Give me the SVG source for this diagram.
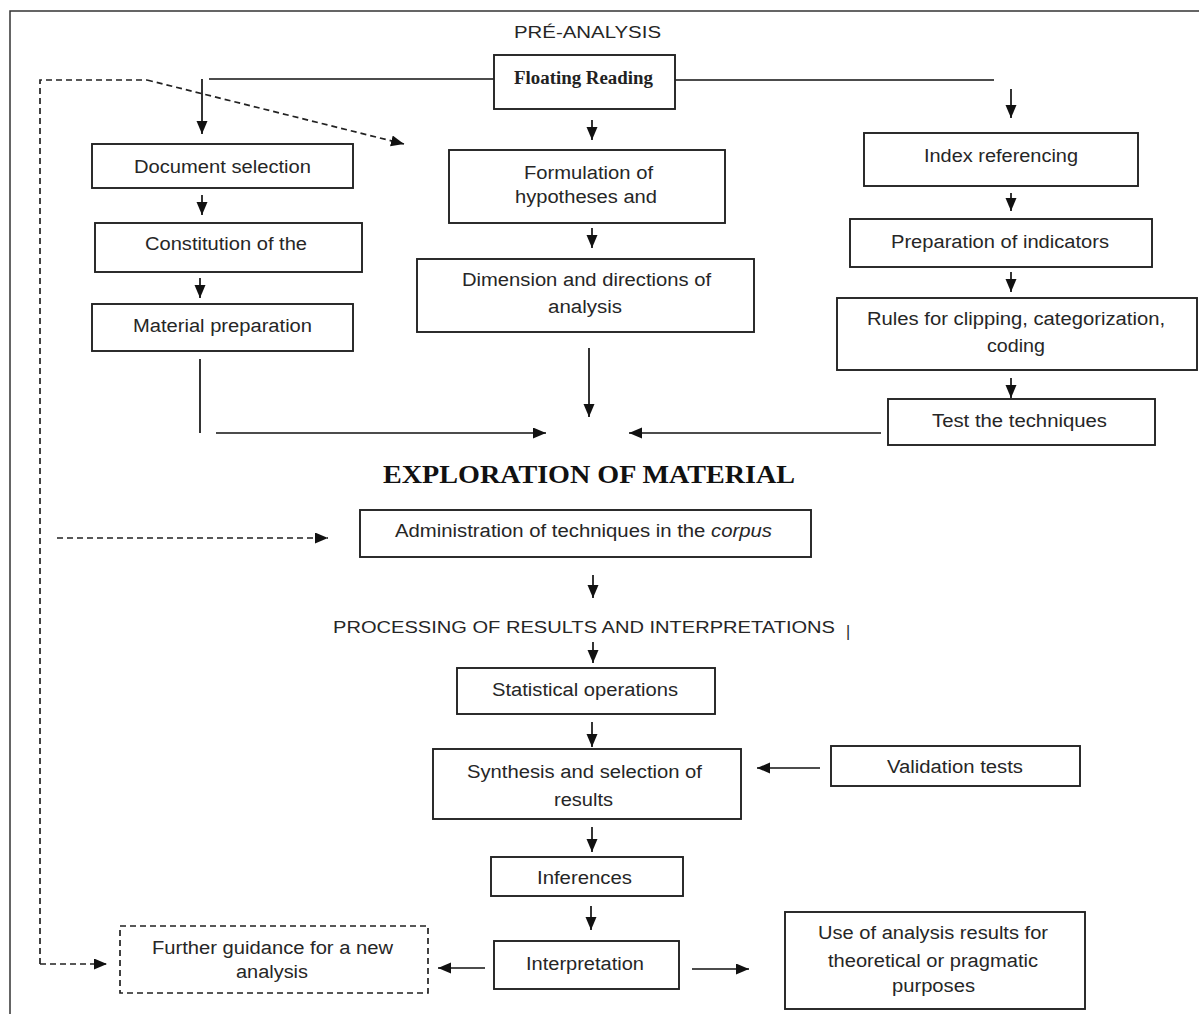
<svg xmlns="http://www.w3.org/2000/svg" width="1199" height="1014" viewBox="0 0 1199 1014">
<style>
.box{fill:#fff;stroke:#222;stroke-width:1.9}
.dbox{fill:#fff;stroke:#222;stroke-width:1.7;stroke-dasharray:6 4}
.lbl{font-family:"Liberation Sans",Arial,sans-serif;font-size:18px;fill:#262626}
.hdr{font-family:"Liberation Sans",Arial,sans-serif;font-size:16px;fill:#262626}
.big{font-family:"Liberation Serif","Times New Roman",serif;font-size:26px;font-weight:bold;fill:#111}
.ser{font-family:"Liberation Serif","Times New Roman",serif;font-size:18px;font-weight:bold;fill:#222}
.ln{stroke:#111;stroke-width:1.7;fill:none}
.arr{stroke:#111;stroke-width:1.7;fill:none;marker-end:url(#ah)}
.dash{stroke:#222;stroke-width:1.7;fill:none;stroke-dasharray:6 4}
.darr{stroke:#222;stroke-width:1.7;fill:none;stroke-dasharray:6 4;marker-end:url(#ah)}
</style>
<defs>
<marker id="ah" markerUnits="userSpaceOnUse" markerWidth="14" markerHeight="12" refX="13" refY="5.5" orient="auto">
<path d="M0,0 L13,5.5 L0,11 z" fill="#111"/>
</marker>
</defs>
<rect width="1199" height="1014" fill="#fff"/>
<path d="M10,1014 V11 H1199" stroke="#333" stroke-width="1.5" fill="none"/>

<text class="hdr" x="514" y="38" textLength="147" lengthAdjust="spacingAndGlyphs">PRÉ-ANALYSIS</text>
<text class="big" x="383" y="483" textLength="412" lengthAdjust="spacingAndGlyphs">EXPLORATION OF MATERIAL</text>
<text class="hdr" x="333" y="633" textLength="502" lengthAdjust="spacingAndGlyphs">PROCESSING OF RESULTS AND INTERPRETATIONS</text>
<text class="hdr" x="846" y="637" font-size="20" fill="#222">|</text>

<g id="connectors">
<path class="ln" d="M209,79 H494"/>
<path class="ln" d="M675,80 H994"/>
<path class="arr" d="M202,79 V134"/>
<path class="arr" d="M1011,89 V118"/>
<path class="arr" d="M592,120 V140"/>
<path class="dash" d="M40,964 V80 H147"/>
<path class="darr" d="M147,80 L404,144"/>
<path class="darr" d="M40,964 H107"/>
<path class="darr" d="M57,538 H328"/>
<path class="arr" d="M202,195 V215"/>
<path class="arr" d="M200,278 V298"/>
<path class="ln" d="M200,359 V433"/>
<path class="arr" d="M216,433 H546"/>
<path class="arr" d="M592,228 V248"/>
<path class="arr" d="M589,348 V417"/>
<path class="arr" d="M1011,193 V211"/>
<path class="arr" d="M1011,272 V292"/>
<path class="arr" d="M1011,378 V398"/>
<path class="arr" d="M881,433 H629"/>
<path class="arr" d="M593,575 V598"/>
<path class="arr" d="M593,642 V663"/>
<path class="arr" d="M592,722 V747"/>
<path class="arr" d="M820,768 H757"/>
<path class="arr" d="M592,827 V852"/>
<path class="arr" d="M591,906 V930"/>
<path class="arr" d="M485,968 H438"/>
<path class="arr" d="M692,969 H749"/>
</g>

<g id="floating-reading">
<rect class="box" x="494" y="55" width="181" height="54"/>
<text class="ser" x="514" y="84" textLength="139" lengthAdjust="spacingAndGlyphs">Floating Reading</text>
</g>
<g id="document-selection">
<rect class="box" x="92" y="144" width="261" height="44"/>
<text class="lbl" x="134" y="173" textLength="177" lengthAdjust="spacingAndGlyphs">Document selection</text>
</g>
<g id="constitution">
<rect class="box" x="95" y="223" width="267" height="49"/>
<text class="lbl" x="145" y="250" textLength="162" lengthAdjust="spacingAndGlyphs">Constitution of the</text>
</g>
<g id="material-preparation">
<rect class="box" x="92" y="304" width="261" height="47"/>
<text class="lbl" x="133" y="332" textLength="179" lengthAdjust="spacingAndGlyphs">Material preparation</text>
</g>
<g id="formulation">
<rect class="box" x="449" y="150" width="276" height="73"/>
<text class="lbl" x="524" y="179" textLength="129" lengthAdjust="spacingAndGlyphs">Formulation of</text>
<text class="lbl" x="515" y="203" textLength="142" lengthAdjust="spacingAndGlyphs">hypotheses and</text>
</g>
<g id="dimension">
<rect class="box" x="417" y="259" width="337" height="73"/>
<text class="lbl" x="462" y="286" textLength="249" lengthAdjust="spacingAndGlyphs">Dimension and directions of</text>
<text class="lbl" x="548" y="313" textLength="74" lengthAdjust="spacingAndGlyphs">analysis</text>
</g>
<g id="index-referencing">
<rect class="box" x="864" y="133" width="274" height="53"/>
<text class="lbl" x="924" y="162" textLength="154" lengthAdjust="spacingAndGlyphs">Index referencing</text>
</g>
<g id="preparation-indicators">
<rect class="box" x="850" y="219" width="302" height="48"/>
<text class="lbl" x="891" y="248" textLength="218" lengthAdjust="spacingAndGlyphs">Preparation of indicators</text>
</g>
<g id="rules">
<rect class="box" x="837" y="298" width="360" height="72"/>
<text class="lbl" x="867" y="325" textLength="298" lengthAdjust="spacingAndGlyphs">Rules for clipping, categorization,</text>
<text class="lbl" x="987" y="352" textLength="58" lengthAdjust="spacingAndGlyphs">coding</text>
</g>
<g id="test-techniques">
<rect class="box" x="888" y="399" width="267" height="46"/>
<text class="lbl" x="932" y="427" textLength="175" lengthAdjust="spacingAndGlyphs">Test the techniques</text>
</g>
<g id="administration">
<rect class="box" x="360" y="510" width="451" height="47"/>
<text class="lbl" x="395" y="537" textLength="377" lengthAdjust="spacingAndGlyphs">Administration of techniques in the <tspan font-style="italic">corpus</tspan></text>
</g>
<g id="statistical-operations">
<rect class="box" x="457" y="668" width="258" height="46"/>
<text class="lbl" x="492" y="696" textLength="186" lengthAdjust="spacingAndGlyphs">Statistical operations</text>
</g>
<g id="synthesis">
<rect class="box" x="433" y="749" width="308" height="70"/>
<text class="lbl" x="467" y="778" textLength="235" lengthAdjust="spacingAndGlyphs">Synthesis and selection of</text>
<text class="lbl" x="554" y="806" textLength="59" lengthAdjust="spacingAndGlyphs">results</text>
</g>
<g id="validation-tests">
<rect class="box" x="831" y="746" width="249" height="40"/>
<text class="lbl" x="887" y="773" textLength="136" lengthAdjust="spacingAndGlyphs">Validation tests</text>
</g>
<g id="inferences">
<rect class="box" x="491" y="857" width="192" height="39"/>
<text class="lbl" x="537" y="884" textLength="95" lengthAdjust="spacingAndGlyphs">Inferences</text>
</g>
<g id="interpretation">
<rect class="box" x="494" y="941" width="185" height="48"/>
<text class="lbl" x="526" y="970" textLength="118" lengthAdjust="spacingAndGlyphs">Interpretation</text>
</g>
<g id="further-guidance">
<rect class="dbox" x="120" y="926" width="308" height="67"/>
<text class="lbl" x="152" y="954" textLength="241" lengthAdjust="spacingAndGlyphs">Further guidance for a new</text>
<text class="lbl" x="236" y="978" textLength="72" lengthAdjust="spacingAndGlyphs">analysis</text>
</g>
<g id="use-of-results">
<rect class="box" x="785" y="912" width="300" height="97"/>
<text class="lbl" x="818" y="939" textLength="230" lengthAdjust="spacingAndGlyphs">Use of analysis results for</text>
<text class="lbl" x="828" y="967" textLength="210" lengthAdjust="spacingAndGlyphs">theoretical or pragmatic</text>
<text class="lbl" x="892" y="992" textLength="83" lengthAdjust="spacingAndGlyphs">purposes</text>
</g>
</svg>
